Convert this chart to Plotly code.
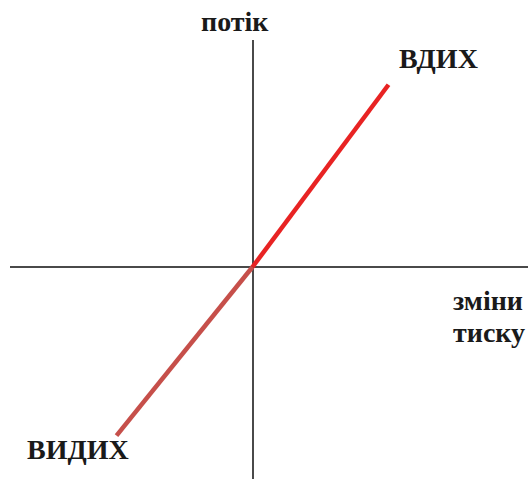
import plotly.graph_objects as go

# data (pressure change vs flow)
inhale_pressure = [0.0, 1.0]
inhale_flow = [0.0, 1.34]
exhale_pressure = [0.0, -1.0]
exhale_flow = [0.0, -1.24]

W, H = 528, 479
OX, OY, S = 252.5, 267.0, 136.0  # pixel origin and scale
x_dom = [10 / W, 1.0]
y_dom = [0.0, 1 - 40 / H]

def px2x(px):
    return (px - OX) / S

def py2y(py):
    return (OY - py) / S

x_range = [px2x(x_dom[0] * W), px2x(W)]
y_range = [py2y(H), py2y(H - y_dom[1] * H)]

fig = go.Figure()
fig.add_trace(go.Scatter(x=exhale_pressure, y=exhale_flow, mode="lines",
                         line=dict(color="#c64f4a", width=4.5), hoverinfo="skip"))
fig.add_trace(go.Scatter(x=inhale_pressure, y=inhale_flow, mode="lines",
                         line=dict(color="#e82323", width=4.5), hoverinfo="skip"))

font = dict(family="Liberation Serif", size=28, color="#1a1a1a")
labels = [
    ("<b>потік</b>", 235, 22),
    ("<b>ВДИХ</b>", 438, 58),
    ("<b>ВИДИХ</b>", 78, 449),
    ("<b>зміни</b>", 488, 300),
    ("<b>тиску</b>", 489, 332),
]
for txt, px, py in labels:
    fig.add_annotation(text=txt, x=px / W, y=1 - py / H, xref="paper", yref="paper",
                       showarrow=False, font=font, xanchor="center", yanchor="middle")

fig.update_xaxes(range=x_range, domain=x_dom, showgrid=False, showticklabels=False,
                 zeroline=True, zerolinecolor="#4a4a4a", zerolinewidth=1.5, showline=False)
fig.update_yaxes(range=y_range, domain=y_dom, showgrid=False, showticklabels=False,
                 zeroline=True, zerolinecolor="#4a4a4a", zerolinewidth=1.5, showline=False)
fig.update_layout(width=W, height=H, margin=dict(l=0, r=0, t=0, b=0),
                  plot_bgcolor="white", paper_bgcolor="white", showlegend=False)
fig.write_html("out.html", config={"displayModeBar": False},
               post_script="document.body.style.margin='0';")
